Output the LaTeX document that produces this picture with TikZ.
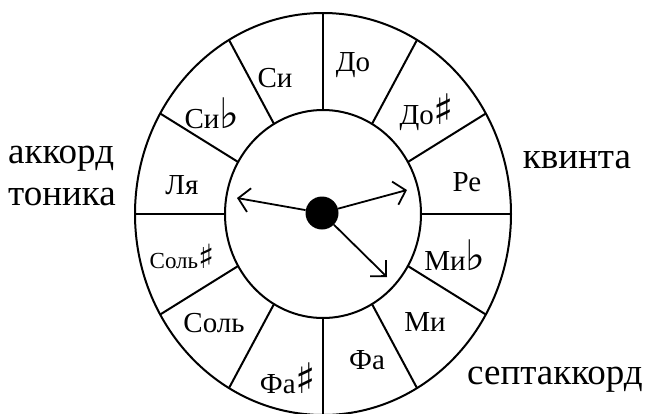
\documentclass[tikz,border=0pt]{standalone}
\usepackage{fontspec}
\setmainfont{Liberation Serif}
\newfontfamily\musicsym[Scale=1.45]{DejaVu Sans}
\usetikzlibrary{arrows.meta,calc}
\newcommand{\noteflat}{{\musicsym\char"266D}}
\newcommand{\notesharp}{{\musicsym\char"266F}}

\begin{document}
\begin{tikzpicture}[x=1pt, y=1pt,
  ring/.style={line width=2pt},
  note/.style={font=\fontsize{29}{32}\selectfont, inner sep=0pt},
  side/.style={font=\fontsize{37}{42}\selectfont, inner sep=0pt, align=left},
  hand/.style={line width=1.8pt, -{Straight Barb[length=11pt, width=24pt]}}]
  \useasboundingbox (0,0) rectangle (646,-413);
  \clip (0,0) rectangle (646,-413);
  \coordinate (c) at (323,-214);

  % wheel
  \draw[ring] (c) ellipse [x radius=188pt, y radius=201pt];
  \draw[ring] (c) ellipse [x radius=98pt, y radius=104pt];
  \foreach \a in {0,30,...,330}
    \draw[ring, shift={(c)}] (\a:98pt and 104pt) -- (\a:188pt and 201pt);

  % notes
  \node[note] (do)      at (353,-65)  {До};
  \node[note] (dosh)    at (427,-112) {До\notesharp};
  \node[note] (re)      at (467,-182) {Ре};
  \node[note] (mifl)    at (455,-255) {Ми\noteflat};
  \node[note] (mi)      at (425,-322) {Ми};
  \node[note] (fa)      at (367,-360) {Фа};
  \node[note] (fash)    at (288,-378) {Фа\notesharp};
  \node[note] (sol)     at (214,-323) {Соль};
  \node[note, font=\fontsize{23}{26}\selectfont] (solsh) at (182,-256) {Соль\notesharp};
  \node[note] (la)      at (182,-185) {Ля};
  \node[note] (sifl)    at (212,-113) {Си\noteflat};
  \node[note] (si)      at (275,-78)  {Си};

  % hands
  \node[circle, fill=black, inner sep=0pt, minimum size=33pt] (hub) at (322,-213) {};
  \coordinate (tonicend) at (237,-198);
  \coordinate (fifthend) at (407,-190);
  \coordinate (seventhend) at (387,-277);
  \draw[hand] (hub) -- (tonicend);
  \draw[hand] (hub) -- (fifthend);
  \draw[line width=1.8pt, -{Straight Barb[angle=90:16pt]}] (hub) -- (seventhend);

  % captions
  \node[side, anchor=west] (tonic) at (8,-176) {аккорд\\тоника};
  \node[side] (fifth) at (577,-160) {квинта};
  \node[side] (seventh) at (555,-380) {септаккорд};
\end{tikzpicture}
\end{document}
